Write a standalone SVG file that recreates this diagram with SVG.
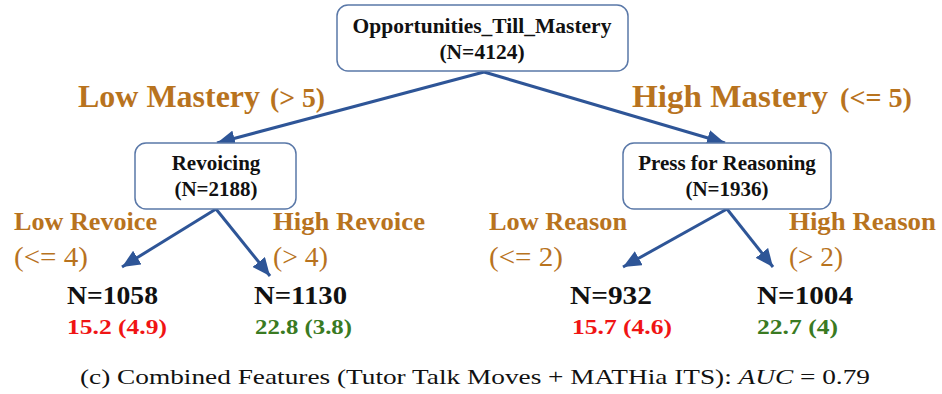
<svg xmlns="http://www.w3.org/2000/svg" width="942" height="394" viewBox="0 0 942 394">
<defs>
<marker id="ah" markerUnits="userSpaceOnUse" markerWidth="20" markerHeight="16" refX="18" refY="8" orient="auto">
<path d="M0,0 L18,8 L0,16 Z" fill="#2e5597"/>
</marker>
</defs>
<g id="connectors" stroke="#2e5597" stroke-width="3" fill="none" marker-end="url(#ah)">
<path d="M484,72 L217,143"/>
<path d="M484,72 L725,143"/>
<path d="M216,209 L122,267"/>
<path d="M216,209 L270,276"/>
<path d="M727,209 L623,267"/>
<path d="M727,209 L773,267"/>
</g>
<g id="root">
<rect x="337" y="5" width="291" height="66" rx="11" fill="#fff" stroke="#5a78a8" stroke-width="1.5"/>
<text font-family="Liberation Serif" font-weight="bold" fill="#111" text-anchor="middle" x="482" y="33" font-size="21.5">Opportunities_Till_Mastery</text>
<text font-family="Liberation Serif" font-weight="bold" fill="#111" text-anchor="middle" x="482" y="59" font-size="21.5">(N=4124)</text>
</g>
<g id="revoicing">
<rect x="135" y="143" width="161" height="66" rx="11" fill="#fff" stroke="#5a78a8" stroke-width="1.5"/>
<text font-family="Liberation Serif" font-weight="bold" fill="#111" text-anchor="middle" x="216" y="170" font-size="21">Revoicing</text>
<text font-family="Liberation Serif" font-weight="bold" fill="#111" text-anchor="middle" x="216" y="196" font-size="21">(N=2188)</text>
</g>
<g id="reasoning">
<rect x="623" y="143" width="208" height="66" rx="11" fill="#fff" stroke="#5a78a8" stroke-width="1.5"/>
<text font-family="Liberation Serif" font-weight="bold" fill="#111" text-anchor="middle" x="727" y="170" font-size="21">Press for Reasoning</text>
<text font-family="Liberation Serif" font-weight="bold" fill="#111" text-anchor="middle" x="727" y="196" font-size="21">(N=1936)</text>
</g>
<g id="edge-labels" fill="#b8731e">
<text font-family="Liberation Serif" font-weight="bold" x="78" y="107" font-size="32" textLength="182" lengthAdjust="spacingAndGlyphs">Low Mastery</text>
<text font-family="Liberation Serif" font-weight="bold" x="270" y="107" font-size="27" textLength="55" lengthAdjust="spacingAndGlyphs">(&gt; 5)</text>
<text font-family="Liberation Serif" font-weight="bold" x="632" y="107" font-size="32" textLength="196" lengthAdjust="spacingAndGlyphs">High Mastery</text>
<text font-family="Liberation Serif" font-weight="bold" x="840" y="107" font-size="27" textLength="72" lengthAdjust="spacingAndGlyphs">(&lt;= 5)</text>
<text font-family="Liberation Serif" font-weight="bold" x="14" y="230" font-size="25" textLength="143" lengthAdjust="spacingAndGlyphs">Low Revoice</text>
<text font-family="Liberation Serif" x="14" y="266" font-size="27" textLength="74" lengthAdjust="spacingAndGlyphs">(&lt;= 4)</text>
<text font-family="Liberation Serif" font-weight="bold" x="273" y="230" font-size="25" textLength="152" lengthAdjust="spacingAndGlyphs">High Revoice</text>
<text font-family="Liberation Serif" x="273" y="266" font-size="27" textLength="55" lengthAdjust="spacingAndGlyphs">(&gt; 4)</text>
<text font-family="Liberation Serif" font-weight="bold" x="489" y="230" font-size="25" textLength="138" lengthAdjust="spacingAndGlyphs">Low Reason</text>
<text font-family="Liberation Serif" x="489" y="266" font-size="27" textLength="74" lengthAdjust="spacingAndGlyphs">(&lt;= 2)</text>
<text font-family="Liberation Serif" font-weight="bold" x="789" y="230" font-size="25" textLength="147" lengthAdjust="spacingAndGlyphs">High Reason</text>
<text font-family="Liberation Serif" x="789" y="266" font-size="27" textLength="54" lengthAdjust="spacingAndGlyphs">(&gt; 2)</text>
</g>
<g id="leaf-1058" font-family="Liberation Serif" font-weight="bold">
<text x="67" y="304" font-size="25" fill="#111" textLength="91" lengthAdjust="spacingAndGlyphs">N=1058</text>
<text x="67" y="334" font-size="22" fill="#f01414" textLength="100" lengthAdjust="spacingAndGlyphs">15.2 (4.9)</text>
</g>
<g id="leaf-1130" font-family="Liberation Serif" font-weight="bold">
<text x="254" y="304" font-size="25" fill="#111" textLength="93" lengthAdjust="spacingAndGlyphs">N=1130</text>
<text x="255" y="334" font-size="22" fill="#3a7a22" textLength="97" lengthAdjust="spacingAndGlyphs">22.8 (3.8)</text>
</g>
<g id="leaf-932" font-family="Liberation Serif" font-weight="bold">
<text x="570" y="304" font-size="25" fill="#111" textLength="82" lengthAdjust="spacingAndGlyphs">N=932</text>
<text x="572" y="334" font-size="22" fill="#f01414" textLength="100" lengthAdjust="spacingAndGlyphs">15.7 (4.6)</text>
</g>
<g id="leaf-1004" font-family="Liberation Serif" font-weight="bold">
<text x="757" y="304" font-size="25" fill="#111" textLength="96" lengthAdjust="spacingAndGlyphs">N=1004</text>
<text x="757" y="334" font-size="22" fill="#3a7a22" textLength="81" lengthAdjust="spacingAndGlyphs">22.7 (4)</text>
</g>
<text font-family="Liberation Serif" x="80" y="384" font-size="21" fill="#111" textLength="790" lengthAdjust="spacingAndGlyphs">(c) Combined Features (Tutor Talk Moves + MATHia ITS): <tspan font-style="italic">AUC</tspan> = 0.79</text>
</svg>
